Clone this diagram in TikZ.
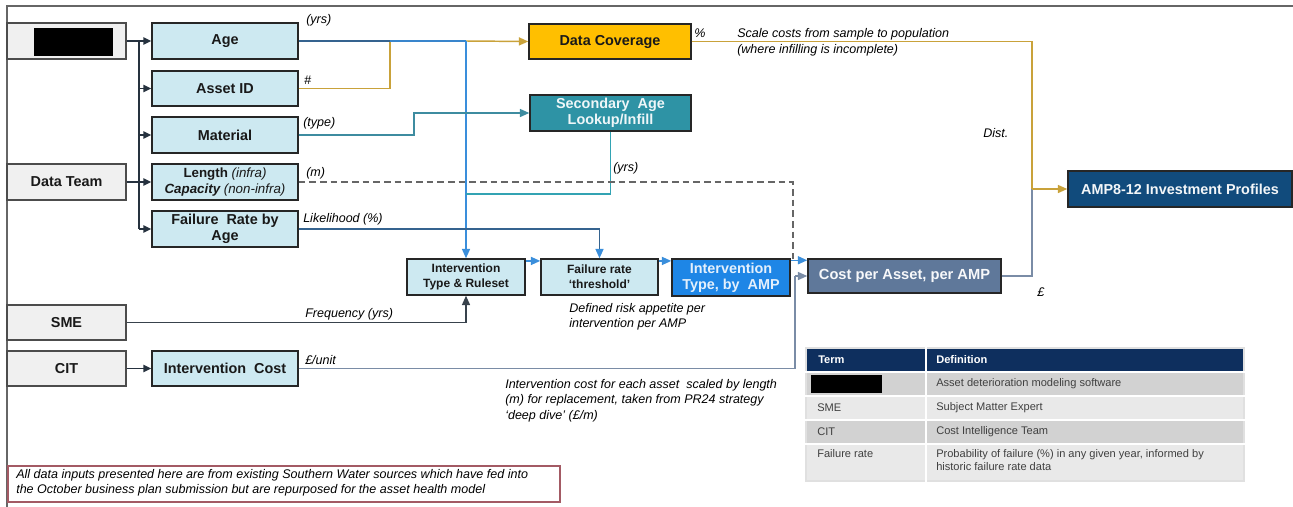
\documentclass[tikz,border=0pt]{standalone}
\usepackage{fontspec}
\setmainfont{Liberation Sans}
\usetikzlibrary{arrows.meta,calc}

\definecolor{lightbox}{HTML}{CDE9F1}
\definecolor{graybox}{HTML}{F0F0F0}
\definecolor{coverfill}{HTML}{FFBF00}
\definecolor{secfill}{HTML}{2E93A5}
\definecolor{itypefill}{HTML}{1E86E6}
\definecolor{costfill}{HTML}{5F789A}
\definecolor{ampfill}{HTML}{114B7C}
\definecolor{tablehead}{HTML}{0E2F5E}
\definecolor{rowdark}{HTML}{D2D2D2}
\definecolor{rowlight}{HTML}{E9E9E9}
\definecolor{goldline}{HTML}{C9A23A}
\definecolor{goldtip}{HTML}{F2B705}
\definecolor{brightline}{HTML}{3A8EDB}
\definecolor{steelline}{HTML}{35638F}
\definecolor{tealline}{HTML}{3E8CA0}
\definecolor{slateline}{HTML}{7A8CA6}
\definecolor{busline}{HTML}{26323F}
\definecolor{noteborder}{HTML}{A35A64}
\definecolor{tabletext}{HTML}{404040}
\definecolor{boxborder}{HTML}{262626}

% box placed by its pixel corners: style, name, x1, y1, x2, y2, text
\newcommand\pixbox[7]{%
  \node[#1, minimum width={(#5-#3)*0.75pt}, minimum height={(#6-#4)*0.75pt}]
    (#2) at ({(#3+#5)/2},{(#4+#6)/2}) {#7};}

\tikzset{
  basebox/.style={draw=boxborder, line width=1.1pt, inner sep=0pt, align=center,
    font=\fontsize{10.8}{12.3}\selectfont\bfseries, text=black!90},
  inbox/.style={basebox, fill=lightbox},
  srcbox/.style={basebox, fill=graybox, draw=black!70},
  conn/.style={line width=1.1pt},
  tip/.style={-{Triangle[length=7pt,width=6pt]}},
  bustip/.style={-{Triangle[length=6pt,width=5.5pt]}},
  lab/.style={inner sep=0pt, anchor=west, font=\fontsize{9.4}{11}\selectfont\itshape},
  cell/.style={inner sep=0pt, anchor=west, font=\fontsize{8.3}{10}\selectfont, text=tabletext, align=left},
}

\begin{document}
\begin{tikzpicture}[x=0.75pt,y=-0.75pt]
\path[use as bounding box] (0,0) rectangle (1293,507);

% outer frame
\draw[line width=1.3pt, color=black!60] (7,507) -- (7,6) -- (1293,6);

% sources
\pixbox{srcbox}{src}{7}{23}{126}{59}{}
\pixbox{srcbox}{datateam}{7}{164}{126}{200}{Data Team}
\pixbox{srcbox}{sme}{7}{305}{126}{340}{SME}
\pixbox{srcbox}{cit}{7}{351}{126}{386}{CIT}
\pixbox{fill=black, inner sep=0pt}{redact}{34}{28}{113}{56}{}

% input data boxes
\pixbox{inbox}{age}{152}{23}{298}{59}{Age}
\pixbox{inbox}{assetid}{152}{71}{298}{106}{Asset ID}
\pixbox{inbox}{material}{152}{117}{298}{153}{Material}
\pixbox{inbox, font=\fontsize{10}{11.5}\selectfont\bfseries}{length}{152}{164}{298}{200}%
  {Length {\mdseries\itshape (infra)}\\\itshape Capacity {\mdseries(non-infra)}}
\pixbox{inbox}{frate}{152}{211}{298}{247}{Failure\ \ Rate by\\Age}
\pixbox{inbox}{icost}{152}{351}{298}{386}{Intervention\ \ Cost}

% processing boxes
\pixbox{basebox, fill=coverfill}{coverage}{529}{24}{691}{59}{Data Coverage}
\pixbox{basebox, fill=secfill, text=white!92!secfill}{secondary}{530}{95}{691}{131}{Secondary\ \ Age\\Lookup/Infill}
\pixbox{inbox, font=\fontsize{9}{11}\selectfont\bfseries}{ruleset}{407}{259}{525}{295}{Intervention\\Type \& Ruleset}
\pixbox{inbox, font=\fontsize{9}{11}\selectfont\bfseries}{thresh}{541}{259}{658}{295}{Failure rate\\`threshold'}
\pixbox{basebox, fill=itypefill, text=white!88!itypefill}{itype}{672}{259}{790}{296}{Intervention\\Type, by\ \ AMP}
\pixbox{basebox, fill=costfill, text=white!95!costfill, font=\fontsize{11}{13}\selectfont\bfseries}{cost}{808}{259}{1001}{293}{Cost per Asset, per AMP}
\pixbox{basebox, fill=ampfill, text=white!95!ampfill, font=\fontsize{10.8}{13}\selectfont\bfseries}{amp}{1068}{171}{1292}{207}{AMP8-12 Investment Profiles}

% bus from the source systems
\coordinate (busT) at (139,41);
\coordinate (busB) at (139,229);
\draw[conn, busline] (src.east) -- (busT) -- (busB);
\foreach \t in {age,assetid,material,frate}
  \draw[conn, busline, bustip] (busT |- \t.west) -- (\t.west);
\draw[conn, busline, bustip] (datateam.east) -- (length.west);
\draw[conn, busline, bustip] (cit.east) -- (icost.west);

% asset id and age feeds
\coordinate (agek) at (390,41);
\coordinate (agesplit) at (466,41);
\draw[conn, goldline] (assetid.east) -| (agek);
\draw[conn, goldline, tip] (agesplit) -- (coverage.west);
\draw[conn, steelline] (age.east) -- (agek);
\draw[conn, brightline!80!steelline] (agek) -- (agesplit);
\draw[conn, brightline, tip] (agesplit) -- (ruleset.north);

% material and secondary age
\coordinate (matk) at (414,113);
\draw[conn, tealline, tip] (material.east) -| (matk) -- (secondary.west);
\coordinate (secjoin) at (466,194);
\draw[conn, tealline!80!cyan] (secondary.south) |- (secjoin);

% length, dashed to cost
\coordinate (dashturn) at (793,259);
\draw[conn, black!60, dash pattern=on 5pt off 3pt] (length.east) -| (dashturn);

% failure rate
\draw[conn, steelline] (frate.east) -| ($(thresh.north)+(0,-8)$);
\draw[conn, brightline, tip] ($(thresh.north)+(0,-8)$) -- (thresh.north);

% SME frequency
\draw[conn, busline!80!gray, tip] (sme.east) -| (ruleset.south);

% chain of intervention steps
\draw[conn, brightline, tip] ([yshift=-2pt]ruleset.north east) -- ([yshift=-2pt]thresh.north west);
\draw[conn, brightline, tip] ([yshift=-2pt]thresh.north east) -- ([yshift=-2pt]itype.north west);
\draw[conn, brightline, tip] ([yshift=-1.5pt]itype.north east) -- ([yshift=-1.5pt]cost.north west);

% intervention cost to cost per asset
\coordinate (ck) at (795,276);
\draw[conn, slateline] (icost.east) -| (ck);
\draw[conn, slateline, tip] (ck) -- (cost.west);

% to investment profiles
\coordinate (ampk) at (1032,189);
\draw[conn, goldline] (coverage.east) -| (ampk);
\draw[conn, slateline] (cost.east) -| (ampk);
\draw[conn, goldline, tip] (ampk) -- (amp.west);

% connector labels
\node[lab] (l1) at (306,20) {(yrs)};
\node[lab, font=\fontsize{9.4}{11}\selectfont] (l2) at (304,80) {\#};
\node[lab] (l3) at (303,123) {(type)};
\node[lab] (l4) at (306,173) {(m)};
\node[lab] (l5) at (303,219) {Likelihood (\%)};
\node[lab] (l6) at (694,33) {\%};
\node[lab, anchor=north west, align=left, font=\fontsize{9.4}{12}\selectfont\itshape] (l7) at (737,28)
  {Scale costs from sample to population\\(where infilling is incomplete)};
\node[lab] (l8) at (983,133) {Dist.};
\node[lab] (l9) at (613,168) {(yrs)};
\node[lab] (l10) at (305,314) {Frequency (yrs)};
\node[lab] (l11) at (305,360) {£/unit};
\node[lab] (l12) at (1037,292) {£};
\node[lab, anchor=north west, align=left, font=\fontsize{9.4}{11.3}\selectfont\itshape] (l13) at (569,303)
  {Defined risk appetite per\\intervention per AMP};
\node[lab, anchor=north west, align=left, font=\fontsize{9.4}{11.6}\selectfont\itshape] (l14) at (505,379)
  {Intervention cost for each asset\ \ scaled by length\\(m) for replacement, taken from PR24 strategy\\`deep dive' (£/m)};

% note
\pixbox{draw=noteborder, line width=0.9pt, inner sep=0pt}{note}{8}{466}{560}{502}{}
\node[lab, anchor=north west, align=left, font=\fontsize{9.4}{11.4}\selectfont\itshape] (notetext) at (16,469)
  {All data inputs presented here are from existing Southern Water sources which have fed into\\the October business plan submission but are repurposed for the asset health model};

% glossary table
\fill[black!12] (805,347) rectangle (1245,482);
\fill[tablehead] (807,349) rectangle (925,371);
\fill[tablehead] (927,349) rectangle (1243,371);
\fill[rowdark] (807,373) rectangle (925,395);
\fill[rowdark] (927,373) rectangle (1243,395);
\fill[rowlight] (807,397) rectangle (925,419);
\fill[rowlight] (927,397) rectangle (1243,419);
\fill[rowdark] (807,421) rectangle (925,443);
\fill[rowdark] (927,421) rectangle (1243,443);
\fill[rowlight] (807,445) rectangle (925,480);
\fill[rowlight] (927,445) rectangle (1243,480);
\fill[white] (925,347) rectangle (927,482);
\foreach \yy in {371,395,419,443} \fill[white] (805,\yy) rectangle (1245,\yy+2);
\pixbox{fill=black, inner sep=0pt}{tredact}{811}{375}{882}{393}{}
\node[cell, text=white, font=\fontsize{8.3}{10}\selectfont\bfseries] (th1) at (818,360) {Term};
\node[cell, text=white, font=\fontsize{8.3}{10}\selectfont\bfseries] (th2) at (936,360) {Definition};
\node[cell] (d1) at (936,384) {Asset deterioration modeling software};
\node[cell] (t2) at (817,408) {SME};
\node[cell] (d2) at (936,408) {Subject Matter Expert};
\node[cell] (t3) at (817,432) {CIT};
\node[cell] (d3) at (936,432) {Cost Intelligence Team};
\node[cell, anchor=north west] (t4) at (817,449) {Failure rate};
\node[cell, anchor=north west] (d4) at (936,449) {Probability of failure (\%) in any given year, informed by\\historic failure rate data};
\end{tikzpicture}
\end{document}
